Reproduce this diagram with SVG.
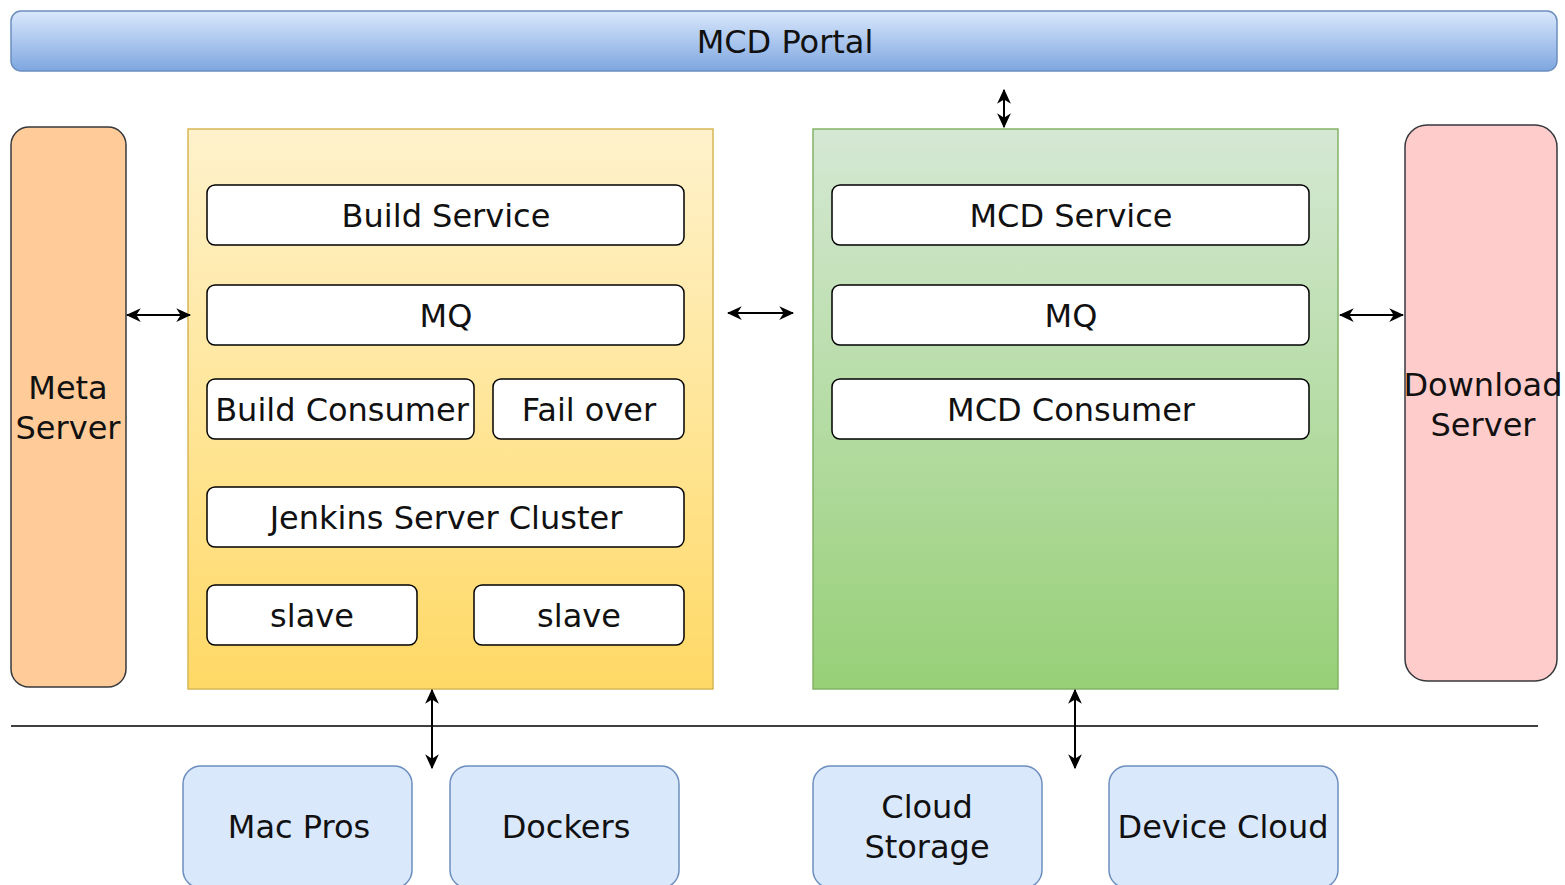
<svg xmlns="http://www.w3.org/2000/svg" width="1565" height="885" viewBox="0 0 1565 885">
<style>
text{font-family:"DejaVu Sans",Verdana,sans-serif;font-size:32px;fill:#111;text-anchor:middle;dominant-baseline:central}
.box{fill:#fff;stroke:#000;stroke-width:1.5}
.blue{fill:#dae8fc;stroke:#6c8ebf;stroke-width:1.5}
.conn{stroke:#000;stroke-width:2;fill:none;marker-start:url(#ah);marker-end:url(#ah)}
</style>
<defs>
<linearGradient id="gPortal" x1="0" y1="0" x2="0" y2="1"><stop offset="0" stop-color="#dae8fc"/><stop offset="1" stop-color="#7ea6e0"/></linearGradient>
<linearGradient id="gYellow" x1="0" y1="0" x2="0" y2="1"><stop offset="0" stop-color="#fff2cc"/><stop offset="1" stop-color="#ffd966"/></linearGradient>
<linearGradient id="gGreen" x1="0" y1="0" x2="0" y2="1"><stop offset="0" stop-color="#d5e8d4"/><stop offset="1" stop-color="#97d077"/></linearGradient>
<marker id="ah" viewBox="0 0 12 12" refX="11" refY="6" markerWidth="15" markerHeight="15" markerUnits="userSpaceOnUse" orient="auto-start-reverse">
<path d="M0,0.5 L12,6 L0,11.5 L3.5,6 Z" fill="#000"/>
</marker>
</defs>
<g id="portal">
<rect x="11" y="11" width="1546" height="60" rx="10" fill="url(#gPortal)" stroke="#6c8ebf" stroke-width="1.5"/>
<text x="785" y="42">MCD Portal</text>
</g>
<g id="meta-server">
<rect x="11" y="127" width="115" height="560" rx="18" fill="#ffcc99" stroke="#36393d" stroke-width="1.5"/>
<text x="68" y="388">Meta</text>
<text x="68" y="428">Server</text>
</g>
<g id="build-container">
<rect x="188" y="129" width="525" height="560" fill="url(#gYellow)" stroke="#d6b656" stroke-width="1.5"/>
</g>
<g id="build-service"><rect class="box" x="207" y="185" width="477" height="60" rx="8"/><text x="446" y="216">Build Service</text></g>
<g id="build-mq"><rect class="box" x="207" y="285" width="477" height="60" rx="8"/><text x="446" y="316">MQ</text></g>
<g id="build-consumer"><rect class="box" x="207" y="379" width="267" height="60" rx="8"/><text x="342" y="410">Build Consumer</text></g>
<g id="fail-over"><rect class="box" x="493" y="379" width="191" height="60" rx="8"/><text x="589" y="410">Fail over</text></g>
<g id="jenkins"><rect class="box" x="207" y="487" width="477" height="60" rx="8"/><text x="446" y="518">Jenkins Server Cluster</text></g>
<g id="slave1"><rect class="box" x="207" y="585" width="210" height="60" rx="8"/><text x="312" y="616">slave</text></g>
<g id="slave2"><rect class="box" x="474" y="585" width="210" height="60" rx="8"/><text x="579" y="616">slave</text></g>
<g id="mcd-container">
<rect x="813" y="129" width="525" height="560" fill="url(#gGreen)" stroke="#82b366" stroke-width="1.5"/>
</g>
<g id="mcd-service"><rect class="box" x="832" y="185" width="477" height="60" rx="8"/><text x="1071" y="216">MCD Service</text></g>
<g id="mcd-mq"><rect class="box" x="832" y="285" width="477" height="60" rx="8"/><text x="1071" y="316">MQ</text></g>
<g id="mcd-consumer"><rect class="box" x="832" y="379" width="477" height="60" rx="8"/><text x="1071" y="410">MCD Consumer</text></g>
<g id="download-server">
<rect x="1405" y="125" width="152" height="556" rx="22" fill="#ffcccc" stroke="#36393d" stroke-width="1.5"/>
<text x="1483" y="385">Download</text>
<text x="1483" y="425">Server</text>
</g>
<g id="mac-pros"><rect class="blue" x="183" y="766" width="229" height="122" rx="18"/><text x="299" y="827">Mac Pros</text></g>
<g id="dockers"><rect class="blue" x="450" y="766" width="229" height="122" rx="18"/><text x="566" y="827">Dockers</text></g>
<g id="cloud-storage"><rect class="blue" x="813" y="766" width="229" height="122" rx="18"/><text x="927" y="807">Cloud</text><text x="927" y="847">Storage</text></g>
<g id="device-cloud"><rect class="blue" x="1109" y="766" width="229" height="122" rx="18"/><text x="1223" y="827">Device Cloud</text></g>
<g id="connectors">
<line x1="11" y1="726" x2="1538" y2="726" stroke="#000" stroke-width="1.5"/>
<line class="conn" x1="127" y1="315" x2="190" y2="315"/>
<line class="conn" x1="728" y1="313" x2="793" y2="313"/>
<line class="conn" x1="1340" y1="315" x2="1403" y2="315"/>
<line class="conn" x1="1004" y1="90" x2="1004" y2="127"/>
<line class="conn" x1="432" y1="690" x2="432" y2="768"/>
<line class="conn" x1="1075" y1="690" x2="1075" y2="768"/>
</g>
</svg>
